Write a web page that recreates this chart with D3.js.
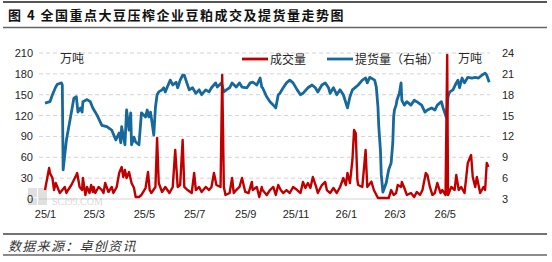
<!DOCTYPE html>
<html>
<head>
<meta charset="utf-8">
<script src="https://cdn.jsdelivr.net/npm/d3@7"></script>
<style>
  body { margin: 0; background: #fff; }
  svg { display: block; }
</style>
</head>
<body>
<svg width="552" height="262"></svg>
<script>
const svg = d3.select("svg"),
    width = +svg.attr("width"),
    height = +svg.attr("height")

const parseDate = d3.timeParse("%Y-%m-%d")

const titleText = "图 4 全国重点大豆压榨企业豆粕成交及提货量走势图"
const sourceText = "数据来源：卓创资讯"
const seriesNames = ["成交量", "提货量（右轴）"]
const unitText = "万吨"

const leftTicks = [0, 30, 60, 90, 120, 150, 180, 210]
const rightTicks = [3, 6, 9, 12, 15, 18, 21, 24]
const xTickLabels = ["25/1", "25/3", "25/5", "25/7", "25/9", "25/11", "26/1", "26/3", "26/5"]

// 成交量 (left axis, 万吨)
const volume = [
  ["2025-01-01", 12.9], ["2025-01-06", 44.6], ["2025-01-07", 37.4], ["2025-01-10", 30.2],
  ["2025-01-12", 12.9], ["2025-01-14", 23.0], ["2025-01-16", 17.3], ["2025-01-19", 8.6],
  ["2025-01-22", 12.9], ["2025-01-25", 17.3], ["2025-01-27", 8.6], ["2025-01-29", 12.9],
  ["2025-02-02", 20.1], ["2025-02-05", 27.3], ["2025-02-08", 34.5], ["2025-02-09", 37.4],
  ["2025-02-12", 17.3], ["2025-02-15", 12.9], ["2025-02-16", 30.2], ["2025-02-19", 5.8],
  ["2025-02-21", 17.3], ["2025-02-24", 8.6], ["2025-02-26", 20.1], ["2025-02-28", 10.1],
  ["2025-03-01", 17.3], ["2025-03-03", 8.6], ["2025-03-07", 17.3], ["2025-03-11", 12.9],
  ["2025-03-13", 8.6], ["2025-03-15", 23.0], ["2025-03-19", 10.1], ["2025-03-23", 17.3],
  ["2025-03-25", 8.6], ["2025-03-29", 17.3], ["2025-04-01", 37.4], ["2025-04-04", 46.0],
  ["2025-04-06", 31.6], ["2025-04-08", 41.7], ["2025-04-10", 30.2], ["2025-04-13", 38.8],
  ["2025-04-16", 23.0], ["2025-04-19", 15.8], ["2025-04-21", 2.9], ["2025-04-25", 2.9],
  ["2025-04-28", 5.8], ["2025-05-03", 15.8], ["2025-05-06", 38.8], ["2025-05-08", 12.9],
  ["2025-05-10", 8.6], ["2025-05-15", 17.3], ["2025-05-17", 87.7], ["2025-05-19", 23.0],
  ["2025-05-23", 10.1], ["2025-05-27", 17.3], ["2025-06-01", 8.6], ["2025-06-05", 17.3],
  ["2025-06-08", 70.5], ["2025-06-11", 17.3], ["2025-06-14", 20.1], ["2025-06-17", 84.9],
  ["2025-06-19", 17.3], ["2025-06-23", 12.9], ["2025-06-28", 8.6], ["2025-07-01", 37.4],
  ["2025-07-03", 12.9], ["2025-07-07", 17.3], ["2025-07-10", 10.1], ["2025-07-15", 17.3],
  ["2025-07-19", 12.9], ["2025-07-22", 17.3], ["2025-07-25", 37.4], ["2025-07-28", 20.1],
  ["2025-08-02", 17.3], ["2025-08-04", 178.4], ["2025-08-06", 17.3], ["2025-08-08", 5.8],
  ["2025-08-13", 8.6], ["2025-08-16", 30.2], ["2025-08-18", 8.6], ["2025-08-21", 12.9],
  ["2025-08-25", 17.3], ["2025-08-28", 30.2], ["2025-09-01", 10.1], ["2025-09-05", 8.6],
  ["2025-09-09", 24.5], ["2025-09-10", 12.9], ["2025-09-15", 17.3], ["2025-09-18", 2.9],
  ["2025-09-21", 17.3], ["2025-09-22", 12.9], ["2025-09-27", 5.8], ["2025-10-01", 12.9],
  ["2025-10-05", 17.3], ["2025-10-08", 5.8], ["2025-10-11", 20.1], ["2025-10-14", 12.9],
  ["2025-10-17", 8.6], ["2025-10-21", 12.9], ["2025-10-25", 8.6], ["2025-10-29", 17.3],
  ["2025-11-03", 12.9], ["2025-11-07", 8.6], ["2025-11-10", 24.5], ["2025-11-13", 15.8],
  ["2025-11-16", 23.0], ["2025-11-19", 15.8], ["2025-11-22", 31.6], ["2025-11-26", 17.3],
  ["2025-11-28", 8.6], ["2025-12-03", 20.1], ["2025-12-07", 24.5], ["2025-12-09", 12.9],
  ["2025-12-13", 8.6], ["2025-12-17", 15.8], ["2025-12-21", 8.6], ["2025-12-25", 17.3],
  ["2025-12-29", 30.2], ["2026-01-01", 20.1], ["2026-01-03", 37.4], ["2026-01-06", 23.0],
  ["2026-01-09", 56.1], ["2026-01-11", 99.2], ["2026-01-13", 94.9], ["2026-01-15", 27.3],
  ["2026-01-16", 20.1], ["2026-01-21", 17.3], ["2026-01-25", 70.5], ["2026-01-27", 17.3],
  ["2026-02-01", 25.0], ["2026-02-04", 12.9], ["2026-02-09", 1.4], ["2026-02-16", 1.4],
  ["2026-02-22", 1.4], ["2026-02-25", 12.9], ["2026-02-28", 5.8], ["2026-03-03", 8.6],
  ["2026-03-05", 20.1], ["2026-03-09", 17.3], ["2026-03-10", 24.5], ["2026-03-13", 15.8],
  ["2026-03-16", 5.8], ["2026-03-21", 8.6], ["2026-03-25", 2.9], ["2026-03-28", 10.1],
  ["2026-04-01", 5.8], ["2026-04-04", 12.9], ["2026-04-08", 37.4], ["2026-04-10", 34.5],
  ["2026-04-13", 17.3], ["2026-04-16", 5.8], ["2026-04-19", 8.6], ["2026-04-22", 23.0],
  ["2026-04-26", 8.6], ["2026-04-28", 12.9], ["2026-05-02", 5.8], ["2026-05-04", 207.1],
  ["2026-05-05", 5.8], ["2026-05-09", 17.3], ["2026-05-13", 12.9], ["2026-05-15", 34.5],
  ["2026-05-18", 12.9], ["2026-05-21", 17.3], ["2026-05-25", 8.6], ["2026-05-29", 51.8],
  ["2026-06-02", 63.3], ["2026-06-04", 31.6], ["2026-06-07", 17.3], ["2026-06-09", 31.6],
  ["2026-06-13", 8.6], ["2026-06-17", 17.3], ["2026-06-19", 12.9], ["2026-06-21", 51.8],
  ["2026-06-23", 46.0]
]

// 提货量 (right axis, 万吨)
const delivery = [
  ["2025-01-01", 16.8], ["2025-01-07", 17.0], ["2025-01-10", 18.0], ["2025-01-14", 19.1],
  ["2025-01-16", 19.5], ["2025-01-21", 19.7], ["2025-01-22", 19.4], ["2025-01-23", 7.2],
  ["2025-01-27", 11.5], ["2025-02-01", 14.8], ["2025-02-05", 17.5], ["2025-02-08", 17.7],
  ["2025-02-10", 15.5], ["2025-02-13", 16.1], ["2025-02-15", 15.5], ["2025-02-16", 17.0],
  ["2025-02-21", 17.3], ["2025-02-25", 17.0], ["2025-02-28", 16.1], ["2025-03-05", 15.1],
  ["2025-03-11", 13.6], ["2025-03-17", 13.4], ["2025-03-23", 12.9], ["2025-03-28", 11.5],
  ["2025-04-01", 12.5], ["2025-04-03", 11.1], ["2025-04-04", 13.4], ["2025-04-08", 10.8],
  ["2025-04-10", 15.8], ["2025-04-13", 12.9], ["2025-04-15", 15.4], ["2025-04-16", 10.8],
  ["2025-04-19", 11.9], ["2025-04-21", 11.2], ["2025-04-25", 10.8], ["2025-04-28", 15.4],
  ["2025-05-03", 14.8], ["2025-05-05", 15.8], ["2025-05-07", 14.8], ["2025-05-09", 15.5],
  ["2025-05-10", 14.7], ["2025-05-13", 12.2], ["2025-05-15", 16.2], ["2025-05-17", 18.0],
  ["2025-05-19", 18.4], ["2025-05-23", 18.7], ["2025-05-25", 19.0], ["2025-05-27", 18.4],
  ["2025-05-29", 19.0], ["2025-06-02", 20.1], ["2025-06-05", 19.4], ["2025-06-09", 19.8],
  ["2025-06-11", 19.0], ["2025-06-14", 20.1], ["2025-06-17", 20.8], ["2025-06-19", 20.8],
  ["2025-06-21", 20.1], ["2025-06-25", 18.7], ["2025-06-29", 19.0], ["2025-07-03", 18.2],
  ["2025-07-07", 18.7], ["2025-07-10", 18.0], ["2025-07-15", 18.7], ["2025-07-19", 18.4],
  ["2025-07-22", 19.0], ["2025-07-27", 19.7], ["2025-07-29", 19.1], ["2025-08-03", 19.7],
  ["2025-08-06", 18.4], ["2025-08-09", 18.7], ["2025-08-13", 19.0], ["2025-08-16", 19.7],
  ["2025-08-21", 19.1], ["2025-08-25", 19.7], ["2025-08-28", 19.1], ["2025-09-03", 19.0],
  ["2025-09-07", 19.7], ["2025-09-10", 19.8], ["2025-09-15", 19.4], ["2025-09-19", 20.4],
  ["2025-09-21", 19.1], ["2025-09-22", 19.0], ["2025-09-27", 17.7], ["2025-10-01", 17.0],
  ["2025-10-05", 16.5], ["2025-10-08", 16.1], ["2025-10-11", 18.0], ["2025-10-13", 18.2],
  ["2025-10-17", 19.0], ["2025-10-21", 19.7], ["2025-10-25", 20.1], ["2025-10-29", 19.7],
  ["2025-11-03", 18.7], ["2025-11-07", 18.0], ["2025-11-10", 18.2], ["2025-11-16", 19.0],
  ["2025-11-21", 19.4], ["2025-11-25", 19.0], ["2025-11-28", 18.4], ["2025-12-03", 19.4],
  ["2025-12-07", 19.7], ["2025-12-11", 19.0], ["2025-12-13", 18.2], ["2025-12-17", 19.0],
  ["2025-12-21", 18.0], ["2025-12-25", 18.7], ["2025-12-29", 18.0], ["2026-01-03", 16.1],
  ["2026-01-06", 17.7], ["2026-01-09", 18.7], ["2026-01-13", 19.1], ["2026-01-16", 19.4],
  ["2026-01-21", 20.1], ["2026-01-25", 20.4], ["2026-01-27", 19.7], ["2026-01-30", 20.5],
  ["2026-02-05", 20.1], ["2026-02-07", 19.1], ["2026-02-09", 16.2], ["2026-02-10", 13.4],
  ["2026-02-12", 10.0], ["2026-02-13", 6.5], ["2026-02-15", 4.0], ["2026-02-19", 5.3],
  ["2026-02-22", 7.2], ["2026-02-25", 8.2], ["2026-02-27", 11.1], ["2026-02-28", 14.8],
  ["2026-03-01", 15.8], ["2026-03-03", 16.5], ["2026-03-04", 17.2], ["2026-03-07", 18.2],
  ["2026-03-09", 19.7], ["2026-03-10", 17.2], ["2026-03-13", 16.5], ["2026-03-16", 17.0],
  ["2026-03-21", 16.5], ["2026-03-25", 17.2], ["2026-03-28", 17.0], ["2026-04-03", 16.5],
  ["2026-04-07", 15.5], ["2026-04-10", 15.8], ["2026-04-15", 16.1], ["2026-04-19", 15.8],
  ["2026-04-22", 16.5], ["2026-04-27", 17.0], ["2026-04-29", 16.1], ["2026-05-03", 14.7],
  ["2026-05-05", 17.7], ["2026-05-07", 18.4], ["2026-05-11", 18.7], ["2026-05-15", 19.7],
  ["2026-05-17", 20.1], ["2026-05-19", 19.0], ["2026-05-22", 20.4], ["2026-05-25", 19.7],
  ["2026-05-29", 20.5], ["2026-06-03", 20.4], ["2026-06-07", 20.5], ["2026-06-11", 20.4],
  ["2026-06-15", 20.8], ["2026-06-19", 21.1], ["2026-06-21", 20.8], ["2026-06-24", 19.8]
]

const RED = "#c00000",
    BLUE = "#17699c",
    TEXT = "#262626",
    cjk = "'Noto Sans CJK SC', sans-serif",
    num = "'Liberation Sans', Arial, sans-serif"

// scales
const x = d3.scaleTime()
    .domain([parseDate("2025-01-01"), parseDate("2026-07-01")])
    .range([45, 495])
const yL = d3.scaleLinear().domain([0, 210]).range([199, 53])
const yR = d3.scaleLinear().domain([3, 24]).range([199, 53])

// frame lines
const rules = [[2, 1.8, "#555"], [27.5, 1.6, "#666"], [234, 1.4, "#444"], [255, 1.6, "#666"]]
svg.selectAll("line.rule")
    .data(rules)
    .enter()
    .append("line")
    .attr("x1", 3).attr("x2", 547)
    .attr("y1", d => d[0]).attr("y2", d => d[0])
    .attr("stroke-width", d => d[1])
    .attr("stroke", d => d[2])

svg.append("text")
    .attr("x", 8).attr("y", 20)
    .attr("font-family", cjk)
    .attr("font-weight", "bold")
    .attr("font-size", 13)
    .attr("letter-spacing", 1.5)
    .attr("fill", "#111")
    .text(titleText)

svg.append("text")
    .attr("x", 8).attr("y", 251)
    .attr("font-family", cjk)
    .attr("font-style", "italic")
    .attr("font-size", 13)
    .attr("letter-spacing", 1.3)
    .attr("fill", "#333")
    .text(sourceText)

// gridlines
svg.append("g")
    .selectAll("line")
    .data(leftTicks)
    .enter()
    .append("line")
    .attr("x1", 39).attr("x2", 490)
    .attr("y1", d => yL(d)).attr("y2", d => yL(d))
    .attr("stroke", "#d4d4d4")
    .attr("stroke-width", 1)
    .attr("stroke-dasharray", d => d === 0 ? null : "4,3")

// watermark
const wm = svg.append("g").attr("opacity", 0.45)
wm.append("rect").attr("x", 28).attr("y", 188).attr("width", 9).attr("height", 9).attr("fill", "#bbb")
wm.append("rect").attr("x", 38).attr("y", 188).attr("width", 9).attr("height", 17).attr("fill", "#bbb")
wm.append("rect").attr("x", 28).attr("y", 198).attr("width", 9).attr("height", 7).attr("fill", "#bbb")
wm.append("text")
    .attr("x", 52).attr("y", 205)
    .attr("font-family", "'Liberation Serif', serif")
    .attr("font-size", 10)
    .attr("fill", "#aaa")
    .text("SCI99.COM")

// axes
const leftAxis = svg.append("g")
    .attr("transform", "translate(33,0)")
    .call(d3.axisLeft(yL).tickValues(leftTicks).tickSize(0).tickPadding(0))
const rightAxis = svg.append("g")
    .attr("transform", "translate(502,0)")
    .call(d3.axisRight(yR).tickValues(rightTicks).tickSize(0).tickPadding(0))
const xTickDates = xTickLabels.map(s => {
    const p = s.split("/")
    return new Date(2000 + +p[0], +p[1] - 1, 1)
})
const bottomAxis = svg.append("g")
    .attr("transform", "translate(0,206)")
    .call(d3.axisBottom(x).tickValues(xTickDates)
        .tickFormat((d, i) => xTickLabels[i]).tickSize(0).tickPadding(4))

;[leftAxis, rightAxis, bottomAxis].forEach(g => {
    g.select(".domain").remove()
    g.selectAll("text")
        .attr("font-family", num)
        .attr("font-size", 11)
        .attr("fill", TEXT)
})

// lines
const lineL = d3.line()
    .x(d => x(parseDate(d[0])))
    .y(d => yL(d[1]))
const lineR = d3.line()
    .x(d => x(parseDate(d[0])))
    .y(d => yR(d[1]))

svg.append("path")
    .attr("d", lineR(delivery))
    .attr("fill", "none")
    .attr("stroke", BLUE)
    .attr("stroke-width", 2.8)
    .attr("stroke-linejoin", "round")

svg.append("path")
    .attr("d", lineL(volume))
    .attr("fill", "none")
    .attr("stroke", RED)
    .attr("stroke-width", 2.4)
    .attr("stroke-linejoin", "round")

// units
svg.append("text").attr("x", 60).attr("y", 63)
    .attr("font-family", cjk).attr("font-size", 12).attr("fill", TEXT).text(unitText)
svg.append("text").attr("x", 458).attr("y", 63)
    .attr("font-family", cjk).attr("font-size", 12).attr("fill", TEXT).text(unitText)

// legend
const legend = svg.append("g")
const legendItems = [[242, RED], [327, BLUE]]
legendItems.forEach(function (d, i) {
    legend.append("line")
        .attr("x1", d[0]).attr("x2", d[0] + 26)
        .attr("y1", 59).attr("y2", 59)
        .attr("stroke", d[1]).attr("stroke-width", 2.8)
    legend.append("text")
        .attr("x", d[0] + 28).attr("y", 63.5)
        .attr("font-family", cjk).attr("font-size", 12)
        .attr("fill", TEXT)
        .text(seriesNames[i])
})
</script>
</body>
</html>
